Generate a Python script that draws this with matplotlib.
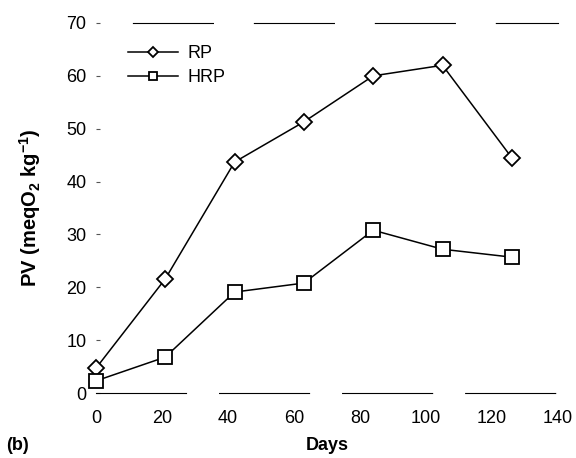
import matplotlib
matplotlib.use("Agg")
import matplotlib.pyplot as plt

plt.rcParams['font.family'] = ['Liberation Sans', 'DejaVu Sans']
plt.rcParams['mathtext.fontset'] = 'custom'
plt.rcParams['mathtext.rm'] = 'Liberation Sans:bold'
plt.rcParams['mathtext.it'] = 'Liberation Sans:bold'
plt.rcParams['mathtext.bf'] = 'Liberation Sans:bold'
plt.rcParams['mathtext.default'] = 'rm'
plt.rcParams['lines.scale_dashes'] = False

# storage time (days) and peroxide values
days = [0, 21, 42, 63, 84, 105, 126]
rp = [4.7, 21.6, 43.7, 51.3, 60.0, 62.0, 44.5]
hrp = [2.3, 6.8, 19.1, 20.8, 30.8, 27.2, 25.7]
x_ticks = [0, 20, 40, 60, 80, 100, 120, 140]
y_ticks = [0, 10, 20, 30, 40, 50, 60, 70]

fig = plt.figure(figsize=(5.76, 4.58), dpi=100)
ax = fig.add_axes([0.1667, 0.1419, 0.8021, 0.8079])

ax.plot(days, rp, color='black', lw=1.1, marker='D', ms=7.8, mfc='white',
        mec='black', mew=1.3, label='RP', clip_on=False, zorder=3)
ax.plot(days, hrp, color='black', lw=1.1, marker='s', ms=10, mfc='white',
        mec='black', mew=1.3, label='HRP', clip_on=False, zorder=3)

ax.set_xlim(0, 140)
ax.set_ylim(0, 70)
ax.set_xticks(x_ticks)
ax.set_yticks(y_ticks)
ax.tick_params(axis='x', length=0, pad=12, labelsize=13)
ax.tick_params(axis='y', direction='in', length=3, width=0.8, color='#555555',
               pad=7, labelsize=13)

# broken frame lines, as in the scanned original
ax.spines['left'].set_visible(False)
ax.spines['right'].set_visible(False)
ax.spines['bottom'].set_linewidth(0.8)
ax.spines['bottom'].set_linestyle((0, (64.8, 23.8)))
ax.spines['top'].set_linewidth(0.8)
ax.spines['top'].set_linestyle((60.5, (57.6, 29.5)))

ax.set_xlabel('Days', fontsize=13, fontweight='bold')
ax.xaxis.set_label_coords(0.5, -0.12)
ax.set_ylabel(r'PV (meqO$_2$ kg$^{-1}$)', fontsize=14.5, fontweight='bold')
ax.yaxis.set_label_coords(-0.115, 0.5)

ax.legend(loc='upper left', bbox_to_anchor=(0.069, 0.94), frameon=False,
          fontsize=13, markerscale=0.6, handlelength=2.8, handletextpad=0.5,
          labelspacing=0.4, borderpad=0, borderaxespad=0, numpoints=1)

fig.text(0.031, 0.028, '(b)', fontsize=13, fontweight='bold', ha='center', va='center')

fig.savefig('out.png', dpi=100)
